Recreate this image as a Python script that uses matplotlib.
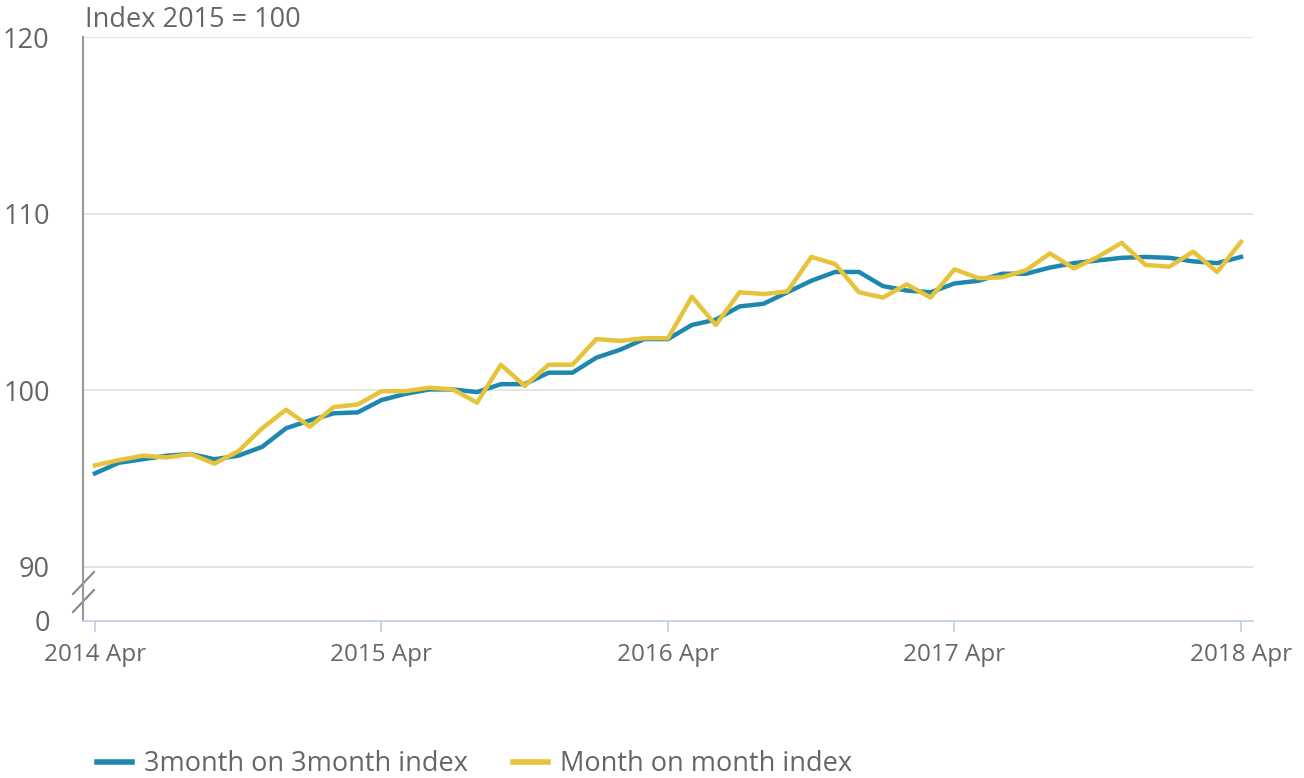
import matplotlib.pyplot as plt
import numpy as np
import pandas as pd

plt.rcParams["font.family"] = ["Open Sans", "DejaVu Sans"]

# Monthly values, 2014 Apr .. 2018 Apr
start_month = "2014-04"
three_month = [
    95.3, 95.9, 96.1, 96.3, 96.4, 96.1, 96.3, 96.8, 97.85, 98.3, 98.7, 98.75,
    99.45, 99.8, 100.05, 100.05, 99.9, 100.35, 100.35, 101.0, 101.0, 101.85, 102.3, 102.9,
    102.9, 103.7, 104.0, 104.75, 104.9, 105.55, 106.2, 106.7, 106.7, 105.9, 105.65, 105.55,
    106.05, 106.2, 106.6, 106.6, 106.95, 107.2, 107.35, 107.5, 107.55, 107.5, 107.3, 107.2,
    107.55,
]
month_on_month = [
    95.75, 96.05, 96.3, 96.2, 96.4, 95.85, 96.55, 97.85, 98.9, 97.95, 99.05, 99.2,
    99.95, 99.95, 100.15, 100.05, 99.3, 101.45, 100.25, 101.45, 101.45, 102.9, 102.8, 102.95,
    102.95, 105.3, 103.7, 105.55, 105.45, 105.6, 107.55, 107.15, 105.55, 105.25, 106.0, 105.25,
    106.85, 106.35, 106.4, 106.8, 107.75, 106.9, 107.55, 108.35, 107.1, 107.0, 107.85, 106.7,
    108.4,
]
series_labels = ["3month on 3month index", "Month on month index"]
y_ticks = [90, 100, 110, 120]

months = pd.period_range(start_month, periods=len(three_month), freq="M")
x = np.arange(len(months))
year_ticks = [i for i, m in enumerate(months) if m.month == 4]
year_labels = [f"{months[i].year} Apr" for i in year_ticks]

blue = "#1d87b0"
yellow = "#e6c33b"
text_grey = "#666666"
axis_blue = "#c5d0ea"

W, H = 1304, 778
ax_l, ax_r, ax_t, ax_b = 83, 1253, 37, 621
fig = plt.figure(figsize=(W / 100, H / 100), dpi=100)
ax = fig.add_axes([ax_l / W, 1 - ax_b / H, (ax_r - ax_l) / W, (ax_b - ax_t) / H])

# broken axis: bottom of the axis stands for 0
px_per_unit = (567 - 37) / 30
zero_pos = 90 - (ax_b - 567) / px_per_unit
ax.set_ylim(zero_pos, 120)
px_per_month = (1241 - 95) / 48
ax.set_xlim(-(95 - ax_l) / px_per_month, 48 + (ax_r - 1241) / px_per_month)

ax.plot(x, three_month, color=blue, lw=3.2, label=series_labels[0], zorder=3)
ax.plot(x, month_on_month, color=yellow, lw=3.2, label=series_labels[1], zorder=4)

for v in y_ticks:
    ax.axhline(v, color="#e2e2e2", lw=1.3, zorder=1)

ax.set_yticks([zero_pos] + y_ticks)
ax.set_yticklabels(["0"] + [str(v) for v in y_ticks])
ax.set_xticks(year_ticks)
ax.set_xticklabels(year_labels)
ax.tick_params(axis="y", length=0, pad=24, labelsize=19.5, labelcolor=text_grey)
ax.tick_params(axis="x", length=8, width=1.3, color=axis_blue, pad=8,
               labelsize=17.5, labelcolor=text_grey)

for s in ["top", "right"]:
    ax.spines[s].set_visible(False)
ax.spines["bottom"].set_color(axis_blue)
ax.spines["bottom"].set_linewidth(1.3)
ax.spines["left"].set_color("#999999")
ax.spines["left"].set_linewidth(1.5)

# break marks on the left axis
aw, ah = ax_r - ax_l, ax_b - ax_t
for top_px in [572, 590]:
    ax.plot([-10 / aw, 11 / aw], [(ax_b - (top_px + 22)) / ah, (ax_b - top_px) / ah],
            transform=ax.transAxes, color="#888888", lw=1.5, clip_on=False)

fig.text(85 / W, 1 - 20 / H, "Index 2015 = 100", fontsize=19.5, color=text_grey,
         va="center", ha="left")

leg = fig.legend(loc="center left", bbox_to_anchor=(86 / W, 1 - 764 / H), ncol=2,
                 frameon=False, fontsize=19.5, handlelength=1.3, handletextpad=0.45,
                 columnspacing=1.65, borderaxespad=0)
for line in leg.get_lines():
    line.set_linewidth(4)
for t in leg.get_texts():
    t.set_color(text_grey)

fig.savefig("out.png", dpi=100)
